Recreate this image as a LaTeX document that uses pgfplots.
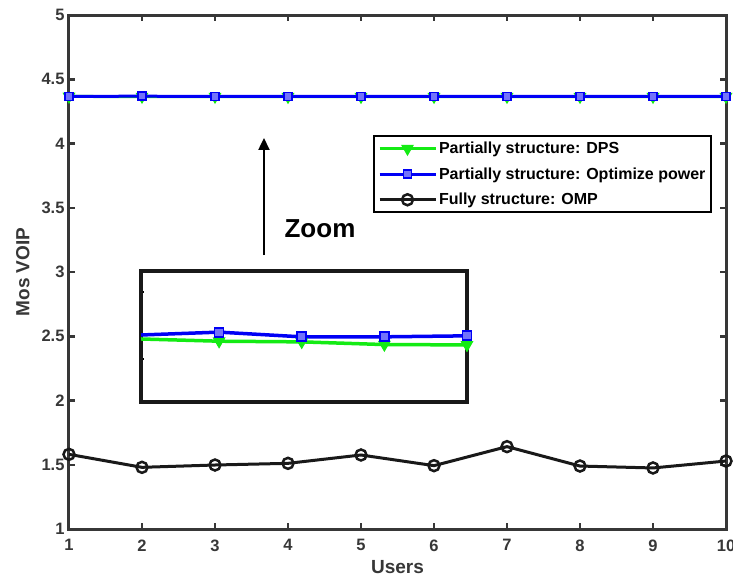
\documentclass[border=0pt]{standalone}
\usepackage{pgfplots}
\pgfplotsset{compat=1.18}
\usepackage{pgfplotstable}
\usepackage{fontspec}
\setmainfont{Liberation Sans}
\usetikzlibrary{arrows.meta,calc}
\definecolor{axgray}{RGB}{55,55,55}
\definecolor{mgreen}{RGB}{20,235,20}
\definecolor{mblue}{RGB}{0,0,245}

\pgfplotstableread{
x y
1 4.3660
2 4.3653
3 4.3651
4 4.3643
5 4.3642
6 4.3643
7 4.3644
8 4.3643
9 4.3644
10 4.3643
}\dps
\pgfplotstableread{
x y
1 4.3671
2 4.3680
3 4.3666
4 4.3666
5 4.3669
6 4.3668
7 4.3667
8 4.3668
9 4.3667
10 4.3668
}\opt
\pgfplotstableread{
x y
1 1.581
2 1.480
3 1.498
4 1.511
5 1.576
6 1.493
7 1.641
8 1.490
9 1.475
10 1.529
}\omp

\begin{document}
\begin{tikzpicture}
\begin{axis}[name=main,
  scale only axis, width=657pt, height=514pt,
  xmin=1, xmax=10, ymin=1, ymax=5,
  xtick={1,...,10}, ytick={1,1.5,...,5},
  tick align=inside, major tick length=6pt,
  separate axis lines,
  axis line style={axgray, line width=3pt, line cap=rect},
  every tick/.style={axgray, line width=2.5pt},
  tick label style={font=\bfseries\fontsize{16.5}{16.5}\selectfont, text=axgray},
  xticklabel style={yshift=-7pt},
  yticklabel style={xshift=-1pt},
  /pgf/number format/assume math mode=true,
  xlabel={Users}, ylabel={Mos VOIP},
  label style={font=\bfseries\fontsize{19}{19}\selectfont, text=axgray},
  xlabel style={yshift=-2pt},
  ylabel style={yshift=5pt},
  legend style={at={(0.4627,0.7665)}, anchor=north west, draw=black, line width=2pt,
    font=\bfseries\fontsize{16}{16}\selectfont, cells={anchor=west},
    inner sep=4pt, row sep=8.5pt},
  legend image code/.code={\draw[mark repeat=2,mark phase=2,#1] plot coordinates {(0pt,0pt) (28pt,0pt) (56pt,0pt)};},
]
\addplot[mgreen, line width=3pt, mark=triangle*, mark size=6.5pt, mark options={fill=mgreen, rotate=180, line width=1pt}] table {\dps};
\addlegendentry{Partially structure: DPS}
\addplot[mblue, line width=3pt, mark=square*, mark size=4pt, mark options={fill=mblue!55, line width=1.5pt}] table {\opt};
\addlegendentry{Partially structure: Optimize power}
\addplot[black!90, line width=3pt, mark=o, mark size=5.5pt, mark options={line width=2.5pt}] table {\omp};
\addlegendentry{Fully structure: OMP}
\draw[-{Triangle[length=12pt,width=11pt]}, line width=2.2pt, black] (axis cs:3.671,3.132) -- (axis cs:3.671,4.043);
\node[font=\bfseries\fontsize{26}{26}\selectfont] at (axis cs:4.438,3.335) {Zoom};
\end{axis}
\begin{axis}[at={($(main.south west)+(72pt,127pt)$)}, anchor=south west,
  scale only axis, width=326pt, height=131pt,
  xmin=1.055, xmax=5, ymin=4.3472, ymax=4.3862,
  xtick=\empty, ytick={4.36,4.38}, yticklabels={}, ytick pos=left,
  tick align=inside, major tick length=3pt,
  every tick/.style={black, line width=2pt},
  separate axis lines,
  axis line style={black!90, line width=3.5pt, line cap=rect},
  axis background/.style={fill=white},
]
\addplot[mgreen, line width=3.5pt, mark=triangle*, mark size=6.5pt, mark options={fill=mgreen, rotate=180, line width=1pt}] table {\dps};
\addplot[mblue, line width=3.5pt, mark=square*, mark size=4.5pt, mark options={fill=mblue!55, line width=1.8pt}] table {\opt};
\end{axis}
\pgfresetboundingbox
\path ($(main.south west)+(-69pt,-55pt)$) rectangle ++(733pt,584pt);
\end{tikzpicture}
\end{document}
